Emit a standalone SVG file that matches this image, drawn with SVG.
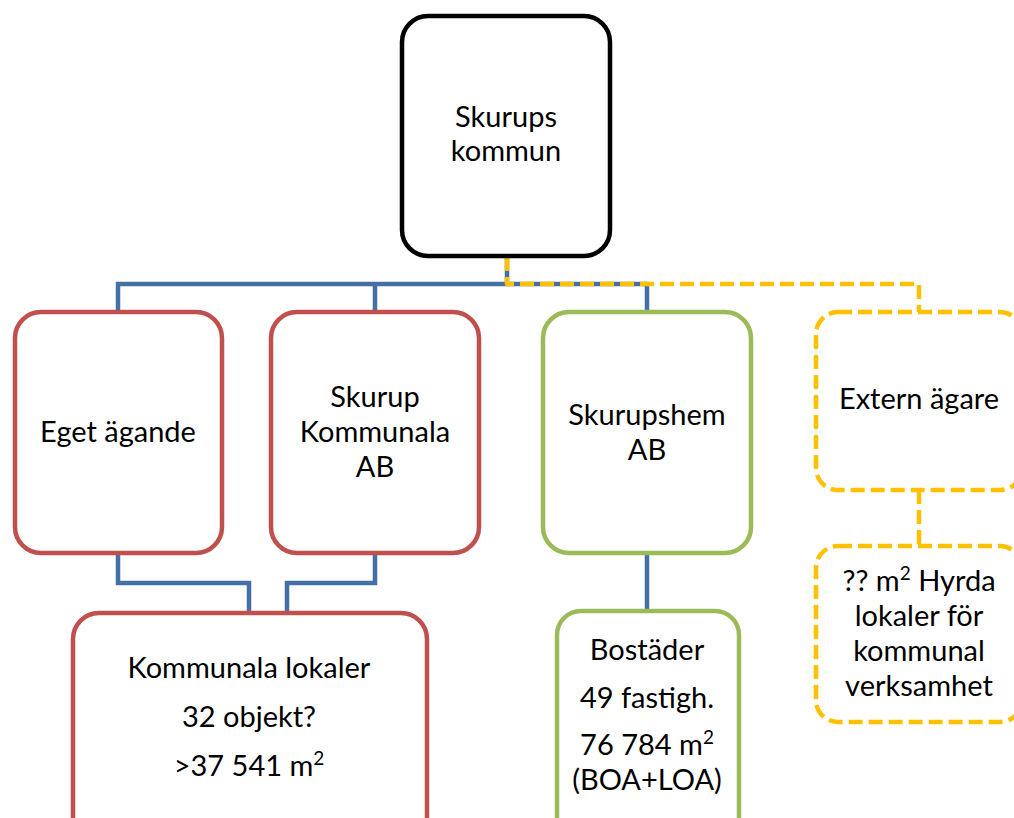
<svg xmlns="http://www.w3.org/2000/svg" width="1014" height="818" viewBox="0 0 1014 818">
<style>
.box{fill:#fff;stroke-width:4.5}
.blk{stroke:#000}
.red{stroke:#C0504D}
.grn{stroke:#9BBB59}
.yel{stroke:#FFC000;stroke-dasharray:14 6}
.blue{fill:none;stroke:#4470A6;stroke-width:4.5}
.ydash{fill:none;stroke:#FFC000;stroke-width:4.5;stroke-dasharray:14 6}
text{font-family:Lato,"Open Sans","Liberation Sans",sans-serif;font-size:29px;fill:#000;text-anchor:middle}
.sup{font-size:19px}
</style>
<rect width="1014" height="818" fill="#fff"/>
<g id="connectors">
<path class="blue" d="M118,312 V284 H647 V312 M375,284 V312 M507,257 V284"/>
<path class="ydash" d="M507,257 V284 H919 V312" stroke-linejoin="round"/>
<path class="blue" d="M118,553 V583 H249 V612 M375,553 V583 H287 V612 M647,553 V611"/>
<path class="ydash" d="M919,490 V545"/>
</g>
<g id="skurups-kommun">
<rect class="box blk" x="402" y="16" width="208" height="240" rx="26"/>
<text x="506" y="127">Skurups</text>
<text x="506" y="161">kommun</text>
</g>
<g id="eget-agande">
<rect class="box red" x="15" y="312" width="207" height="241" rx="26"/>
<text x="118" y="442">Eget ägande</text>
</g>
<g id="skurup-kommunala-ab">
<rect class="box red" x="271" y="312" width="208" height="241" rx="26"/>
<text x="375" y="407">Skurup</text>
<text x="375" y="442">Kommunala</text>
<text x="375" y="477">AB</text>
</g>
<g id="skurupshem-ab">
<rect class="box grn" x="543" y="312" width="208" height="241" rx="26"/>
<text x="647" y="425">Skurupshem</text>
<text x="647" y="460">AB</text>
</g>
<g id="extern-agare">
<rect class="box yel" x="816" y="312" width="206" height="178" rx="22"/>
<text x="919" y="409">Extern ägare</text>
</g>
<g id="hyrda-lokaler">
<rect class="box yel" x="816" y="546" width="206" height="176" rx="22"/>
<text x="919" y="591">?? m<tspan class="sup" dy="-11">2</tspan><tspan dy="11"> Hyrda</tspan></text>
<text x="919" y="626">lokaler för</text>
<text x="919" y="661">kommunal</text>
<text x="919" y="696">verksamhet</text>
</g>
<g id="kommunala-lokaler">
<rect class="box red" x="73" y="613" width="354" height="240" rx="26"/>
<text x="249" y="678">Kommunala lokaler</text>
<text x="249" y="727">32 objekt?</text>
<text x="249" y="776">&gt;37 541 m<tspan class="sup" dy="-11">2</tspan></text>
</g>
<g id="bostader">
<rect class="box grn" x="557" y="611" width="182" height="240" rx="24"/>
<text x="647" y="660">Bostäder</text>
<text x="647" y="708">49 fastigh.</text>
<text x="647" y="755">76 784 m<tspan class="sup" dy="-11">2</tspan></text>
<text x="647" y="790">(BOA+LOA)</text>
</g>
</svg>
